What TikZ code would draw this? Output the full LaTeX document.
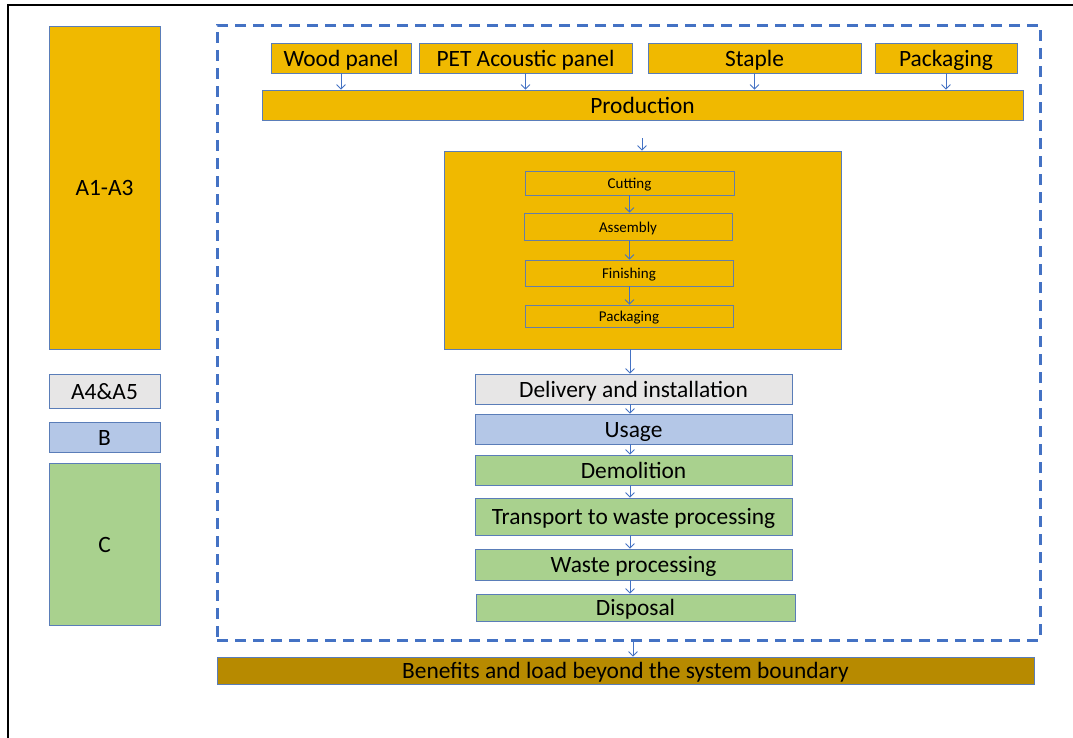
\documentclass[tikz,border=0pt]{standalone}
\usepackage{fontspec}
\setmainfont{Carlito}
\usetikzlibrary{arrows.meta,calc}
\definecolor{gold}{HTML}{F0B900}
\definecolor{darkgold}{HTML}{B78A00}
\definecolor{greyfill}{HTML}{E7E6E6}
\definecolor{bluefill}{HTML}{B4C7E7}
\definecolor{greenfill}{HTML}{A9D18E}
\definecolor{edge}{HTML}{5A7DB8}
\definecolor{arrowc}{HTML}{4472C4}
\newcommand{\rbox}[7]{\node[#6, minimum width={(#4-#2)*1pt}, minimum height={(#5-#3)*1pt}] (#1) at ({(#2+#4)/2},{(#3+#5)/2}) {#7};}
\tikzset{
  box/.style={draw=edge, line width=0.8pt, inner sep=0pt, text=black, font=\fontsize{23.4}{27}\selectfont, text height=16.5pt, text depth=0pt},
  small/.style={box, draw=edge!70!gray, font=\fontsize{15}{18}\selectfont, text height=11.2pt, text depth=0pt},
  arr/.style={draw=arrowc, line width=0.8pt, -{Straight Barb[length=4.5pt,width=9pt,line width=0.8pt]}},
  boundary/.style={draw=arrowc, line width=3pt, dash pattern=on 11pt off 7pt, inner sep=0pt}
}
\begin{document}
\begin{tikzpicture}[x=1pt,y=-1pt]
\useasboundingbox (0,0) rectangle (1073,737);
\fill[white] (0,0) rectangle (1073,737);
% outer frame
\draw[black, line width=1.2pt] (8,745) -- (8,5) -- (1080,5);
% left legend
\rbox{la}{49}{26}{160}{349}{box,fill=gold}{A1-A3}
\rbox{lb}{49}{374}{160}{408}{box,fill=greyfill}{A4\&A5}
\rbox{lc}{49}{422}{160}{452}{box,fill=bluefill}{B}
\rbox{ld}{49}{463}{160}{625}{box,fill=greenfill}{C}
% system boundary
\rbox{sys}{217}{25}{1040}{640}{boundary}{}
% inputs
\rbox{wood}{271}{43}{411}{73}{box,fill=gold}{Wood panel}
\rbox{pet}{419}{43}{632}{73}{box,fill=gold}{PET Acoustic panel}
\rbox{staple}{648}{43}{861}{73}{box,fill=gold}{Staple}
\rbox{pack}{875}{43}{1017}{73}{box,fill=gold}{Packaging}
\rbox{prod}{262}{90}{1023}{120}{box,fill=gold}{Production}
% production detail
\rbox{bigbox}{444}{151}{841}{349}{box,fill=gold}{}
\rbox{cut}{525}{171}{734}{195}{small,fill=gold}{Cutting}
\rbox{asm}{524}{213}{732}{240}{small,fill=gold}{Assembly}
\rbox{fin}{525}{260}{733}{286}{small,fill=gold}{Finishing}
\rbox{ipack}{525}{305}{733}{327}{small,fill=gold}{Packaging}
% life cycle
\rbox{deliv}{475}{374}{792}{404}{box,fill=greyfill}{Delivery and installation}
\rbox{usage}{475}{414}{792}{444}{box,fill=bluefill}{Usage}
\rbox{demol}{475}{455}{792}{485}{box,fill=greenfill}{Demolition}
\rbox{trans}{475}{498}{792}{535}{box,fill=greenfill}{Transport to waste processing}
\rbox{waste}{475}{549}{792}{580}{box,fill=greenfill}{Waste processing}
\rbox{disp}{476}{594}{795}{621}{box,fill=greenfill}{Disposal}
\rbox{ben}{217}{657}{1034}{684}{box,fill=darkgold,text height=15.5pt}{Benefits and load beyond the system boundary}
% arrows
\draw[arr] (wood.south) -- (wood.south |- prod.north);
\draw[arr] (pet.south) -- (pet.south |- prod.north);
\draw[arr] (staple.south) -- (staple.south |- prod.north);
\draw[arr] (pack.south) -- (pack.south |- prod.north);
\coordinate (c1) at (642,138);
\draw[arr] (c1) -- (c1 |- bigbox.north);
\draw[arr] (cut.south) -- (cut.south |- asm.north);
\draw[arr] (cut.south |- asm.south) -- (cut.south |- fin.north);
\draw[arr] (cut.south |- fin.south) -- (cut.south |- ipack.north);
\coordinate (cx) at (630,0);
\draw[arr] (cx |- bigbox.south) -- (cx |- deliv.north);
\draw[arr] (cx |- deliv.south) -- (cx |- usage.north);
\draw[arr] (cx |- usage.south) -- (cx |- demol.north);
\draw[arr] (cx |- demol.south) -- (cx |- trans.north);
\draw[arr] (cx |- trans.south) -- (cx |- waste.north);
\draw[arr] (cx |- waste.south) -- (cx |- disp.north);
\coordinate (cb) at (633,0);
\draw[arr] (cb |- sys.south) -- (cb |- ben.north);
\end{tikzpicture}
\end{document}
